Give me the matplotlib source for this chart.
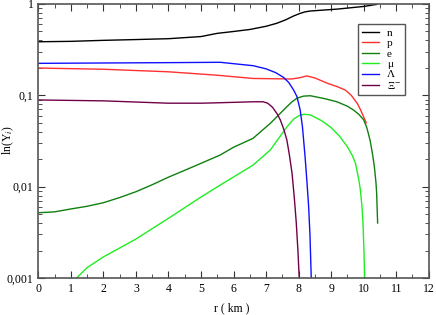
import matplotlib
matplotlib.use('Agg')
import matplotlib.pyplot as plt
import numpy as np
from matplotlib.ticker import MultipleLocator, LogLocator, NullFormatter

plt.rcParams['font.family'] = ['Liberation Serif', 'DejaVu Serif']
plt.rcParams['mathtext.fontset'] = 'stix'

# Particle fractions, r in km
r_n = [0, 1, 2, 3, 4, 5, 5.5, 6, 6.5, 7, 7.33, 7.6, 7.85, 8.05, 8.2, 8.36, 9.2, 10, 10.4]
y_n = [0.386, 0.39, 0.40, 0.408, 0.417, 0.44, 0.477, 0.50, 0.526, 0.57, 0.615, 0.67, 0.74, 0.79, 0.82, 0.838, 0.88, 0.94, 0.99]

r_p = [0, 2, 4, 5.5, 6.6, 7.78, 8.0, 8.26, 8.5, 8.9, 9.2, 9.44, 9.62, 9.8, 9.9, 10.0, 10.08]
y_p = [0.199, 0.193, 0.181, 0.166, 0.153, 0.151, 0.155, 0.163, 0.155, 0.135, 0.124, 0.114, 0.1, 0.082, 0.07, 0.058, 0.05]

r_e = [0, 0.5, 1, 1.5, 2, 2.5, 3, 3.5, 4, 4.5, 5, 5.59, 6.0, 6.6, 7.13, 7.64, 7.8, 7.95, 8.15, 8.36,
       8.8, 9.18, 9.5, 9.69, 9.85, 10.0, 10.1, 10.2, 10.28, 10.33, 10.38, 10.4, 10.43]
y_e = [0.00518, 0.0053, 0.0057, 0.0061, 0.00667, 0.0076, 0.0088, 0.0105, 0.0127, 0.0151, 0.018, 0.0222,
       0.027, 0.0338, 0.0493, 0.075, 0.085, 0.093, 0.098, 0.099, 0.092, 0.085, 0.076, 0.069, 0.062, 0.054,
       0.044, 0.032, 0.022, 0.0165, 0.011, 0.0085, 0.004]

r_mu = [1.18, 1.5, 2, 3, 4, 5, 5.59, 6.6, 7.13, 7.64, 7.85, 8.05, 8.2, 8.36, 8.7, 8.98, 9.25, 9.5,
        9.65, 9.75, 9.85, 9.9, 9.95, 9.98, 10.01, 10.03]
y_mu = [0.001, 0.0013, 0.0017, 0.00267, 0.0045, 0.0077, 0.0104, 0.0172, 0.0252, 0.045, 0.055, 0.061,
        0.062, 0.061, 0.053, 0.045, 0.036, 0.0274, 0.022, 0.018, 0.012, 0.0092, 0.006, 0.004, 0.002, 0.001]

r_lam = [0, 2, 4, 5.59, 6.61, 7.0, 7.3, 7.54, 7.7, 7.85, 7.95, 8.05, 8.12, 8.2, 8.26, 8.31, 8.35, 8.39]
y_lam = [0.224, 0.226, 0.228, 0.23, 0.211, 0.195, 0.177, 0.157, 0.138, 0.114, 0.097, 0.069, 0.045,
         0.0213, 0.011, 0.006, 0.003, 0.001]

r_xi = [0, 2, 4, 5, 5.59, 6.6, 6.91, 7.05, 7.2, 7.35, 7.44, 7.55, 7.64, 7.72, 7.8, 7.87, 7.93, 7.98, 8.02]
y_xi = [0.089, 0.087, 0.082, 0.082, 0.083, 0.085, 0.085, 0.082, 0.074, 0.062, 0.0537, 0.042, 0.0325,
        0.022, 0.014, 0.0075, 0.004, 0.002, 0.001]

fig = plt.figure(figsize=(4.36, 3.15), dpi=100)
ax = fig.add_axes([38.3/436, 1 - 278/315, 390.4/436, 274/315])

ax.plot(r_n, y_n, color='black', lw=1, label='n')
ax.plot(r_p, y_p, color='#ff3030', lw=1, label='p')
ax.plot(r_e, y_e, color='#108010', lw=1, label='e')
ax.plot(r_mu, y_mu, color='#20ee20', lw=1, label='μ')
ax.plot(r_lam, y_lam, color='#1010ff', lw=1, label='Λ')
ax.plot(r_xi, y_xi, color='#700048', lw=1, label='Ξ$^{-}$')

ax.set_yscale('log')
ax.set_xlim(0, 12)
ax.set_ylim(0.001, 1)
ax.xaxis.set_major_locator(MultipleLocator(1))
ax.xaxis.set_minor_locator(MultipleLocator(0.5))
ax.yaxis.set_minor_locator(LogLocator(base=10, subs=np.arange(2, 10)))
ax.yaxis.set_minor_formatter(NullFormatter())
ax.set_yticks([0.001, 0.01, 0.1, 1])
ax.set_yticklabels(['0,001', '0,01', '0,1', '1'])
ax.tick_params(which='both', direction='in', top=True, right=True, labelsize=8.5,
               colors='#333333', labelcolor='black')
ax.tick_params(which='major', length=5)
ax.tick_params(which='minor', length=3)
for s in ax.spines.values():
    s.set_color('#555555')
    s.set_linewidth(1.2)

ax.set_xlabel('r ( km )', fontsize=8.5)
ax.set_ylabel('ln(Y$_i$)', fontsize=8.5)
ax.xaxis.set_label_coords(0.496, -0.088)
ax.yaxis.set_label_coords(-0.057, 0.505)

leg = ax.legend(loc='upper left', bbox_to_anchor=(0.82, 0.927), borderaxespad=0, fontsize=8,
                handlelength=1.5, handletextpad=0.7, labelspacing=0.06,
                borderpad=0.35, fancybox=False, framealpha=1, edgecolor='#555555')
leg.get_frame().set_linewidth(1.0)

fig.savefig('out.png', dpi=100)
